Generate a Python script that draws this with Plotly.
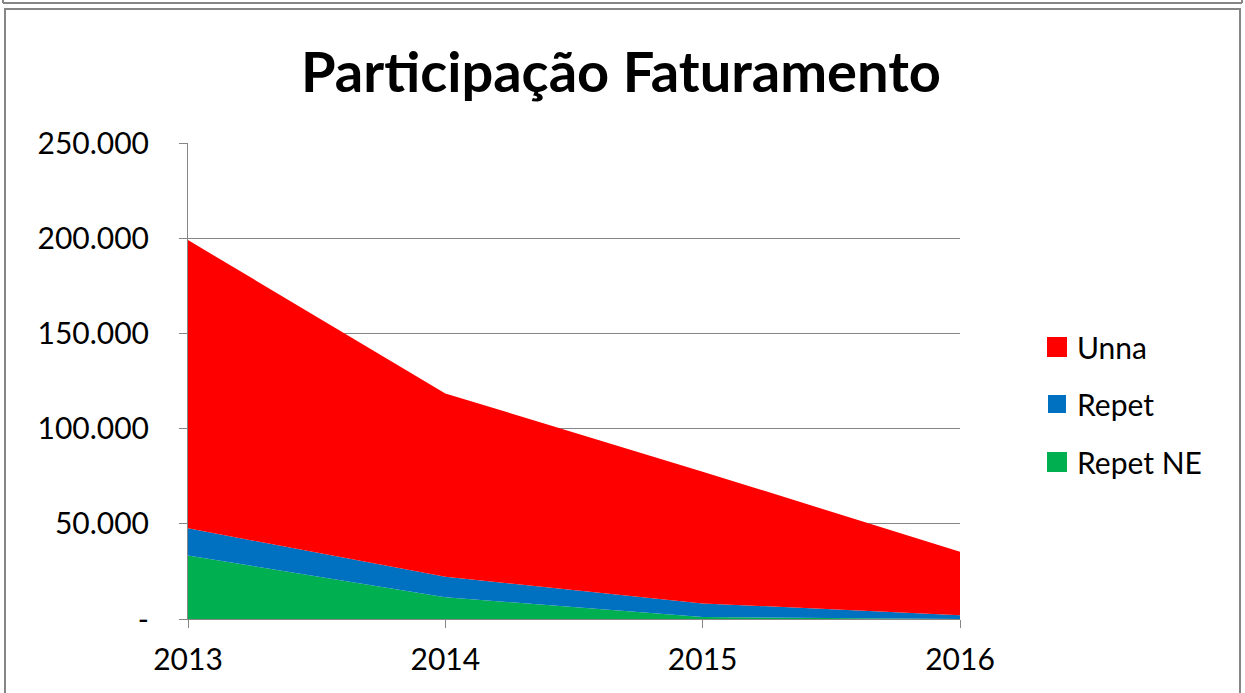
import plotly.graph_objects as go

years = [2013, 2014, 2015, 2016]
repet_ne = [33300, 11400, 1000, 0]
repet = [14300, 10800, 7200, 2000]
unna = [151400, 96300, 69200, 33300]

ytick_vals = [0, 50000, 100000, 150000, 200000, 250000]
ytick_text = ["-", "50.000", "100.000", "150.000", "200.000", "250.000"]

W, H = 1245, 693
L, R, T, B = 188, 960, 143, 619
PW, PH = R - L, B - T


def px(x):
    return (x - L) / PW


def py(y):
    return (B - y) / PH


FONT = "Lato"
GRAY = "#868686"

fig = go.Figure()
series = [("Repet NE", repet_ne, "#00B050", "legend3", 4),
          ("Repet", repet, "#0070C0", "legend2", 2),
          ("Unna", unna, "#FF0000", "legend", 4)]
for name, vals, col, lg, lw in series:
    fig.add_trace(go.Scatter(
        x=years, y=vals, name=name, mode="lines", stackgroup="one",
        line=dict(width=0, color=col), fillcolor=col, showlegend=False,
        hoverinfo="x+y+name"))
    # legend proxy (square swatch like the original)
    fig.add_trace(go.Scatter(
        x=[None], y=[None], name=name, mode="markers", legend=lg,
        marker=dict(symbol="square", size=16, color=col,
                    line=dict(color=col, width=lw)), showlegend=True))

legend_common = dict(font=dict(family=FONT, size=30, color="#000000"),
                     bgcolor="rgba(0,0,0,0)", xanchor="left", yanchor="middle",
                     x=px(1037), itemwidth=30)

fig.update_layout(
    width=W, height=H,
    margin=dict(l=L, r=W - R, t=T, b=H - B, pad=0),
    paper_bgcolor="white", plot_bgcolor="white",
    title=dict(text="<b>Participação Faturamento</b>",
               font=dict(family=FONT, size=56, color="#000000"),
               x=(621) / W, xanchor="center", y=1 - 72 / H, yanchor="middle"),
    legend=dict(y=py(347), **legend_common),
    legend2=dict(y=py(404), **legend_common),
    legend3=dict(y=py(462), **legend_common),
    xaxis=dict(range=[2013, 2016], tickvals=years, ticktext=[str(y) for y in years],
               showgrid=False, showline=True, linecolor=GRAY, linewidth=1,
               ticks="outside", ticklen=8, tickcolor=GRAY,
               tickfont=dict(family=FONT, size=30, color="#000000"),
               ticklabelstandoff=6,
               zeroline=False, fixedrange=True),
    yaxis=dict(range=[0, 250000], tickvals=ytick_vals, ticktext=ytick_text,
               showgrid=True, gridcolor=GRAY, gridwidth=1,
               showline=True, linecolor=GRAY, linewidth=1,
               ticks="outside", ticklen=8, tickcolor=GRAY,
               tickfont=dict(family=FONT, size=30, color="#000000"),
               ticklabelstandoff=24,
               zeroline=False, fixedrange=True),
    showlegend=True,
)

# frame borders
shapes = [
    dict(type="rect", xref="paper", yref="paper",
         x0=px(5), x1=px(1240), y0=py(700), y1=py(9),
         line=dict(color=GRAY, width=2), fillcolor="rgba(0,0,0,0)", layer="below"),
    dict(type="line", xref="paper", yref="paper",
         x0=px(3), x1=px(1242), y0=py(3), y1=py(3),
         line=dict(color=GRAY, width=2)),
    dict(type="line", xref="paper", yref="paper",
         x0=px(3), x1=px(3), y0=py(-2), y1=py(3),
         line=dict(color=GRAY, width=2)),
    dict(type="line", xref="paper", yref="paper",
         x0=px(1242), x1=px(1242), y0=py(-2), y1=py(3),
         line=dict(color=GRAY, width=2)),
]
fig.update_layout(shapes=shapes)

fig.write_html("out.html", config={"displayModeBar": False},
               post_script="document.body.style.margin='0px';document.body.style.overflow='hidden';")
